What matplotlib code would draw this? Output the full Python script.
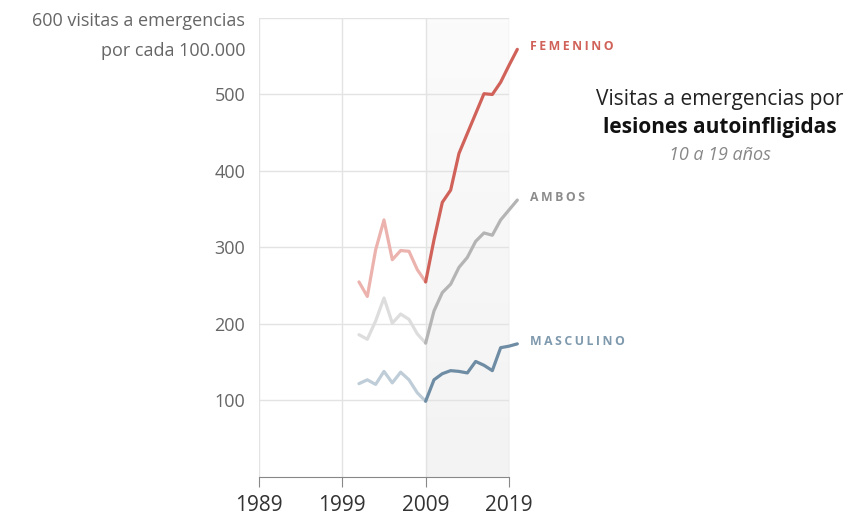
import numpy as np
import matplotlib
matplotlib.use("Agg")
import matplotlib.pyplot as plt

# --- Data ---------------------------------------------------------------------
YEARS = list(range(2001, 2021))
FEMENINO = [255, 236, 297, 336, 284, 296, 295, 271, 255, 310,
            359, 375, 423, 449, 475, 501, 500, 516, 538, 559]
AMBOS = [186, 180, 204, 234, 201, 213, 206, 187, 175, 217,
         241, 252, 274, 287, 308, 319, 316, 336, 349, 362]
MASCULINO = [122, 127, 121, 138, 123, 137, 127, 110, 99, 127,
             135, 139, 138, 136, 151, 146, 139, 169, 171, 174]
SPLIT_YEAR = 2009
X_TICKS = [1989, 1999, 2009, 2019]
Y_TICKS = [100, 200, 300, 400, 500]

SERIES = [
    ("FEMENINO", FEMENINO, "#d0625a", "#ecb2ad", "#d0625a"),
    ("AMBOS", AMBOS, "#b4b4b4", "#dddddd", "#8c8c8c"),
    ("MASCULINO", MASCULINO, "#6e8ca3", "#bfcdd8", "#7f99ad"),
]
# -----------------------------------------------------------------------------

plt.rcParams["font.family"] = ["Open Sans", "DejaVu Sans"]


def spaced(s):
    return "\u2009".join(s)


fig = plt.figure(figsize=(8.55, 5.18), dpi=100)
ax = fig.add_axes([0.3029, 0.0792, 0.2924, 0.8861])
ax.set_xlim(1989, 2019)
ax.set_ylim(0, 600)

# shaded period (light gradient)
grad = np.linspace(0, 1, 100).reshape(-1, 1)
ax.imshow(grad, extent=[SPLIT_YEAR, 2019, 0, 600], origin="upper",
          cmap=matplotlib.colors.LinearSegmentedColormap.from_list(
              "g", ["#fbfbfb", "#f3f3f3"]), aspect="auto", zorder=0)

# grid
for y in Y_TICKS + [600]:
    ax.plot([1989, 2019], [y, y], color="#e3e3e3", lw=1, zorder=1)
for x in X_TICKS:
    ax.plot([x, x], [0, 600], color="#e3e3e3", lw=1, zorder=1)

years = np.array(YEARS)
for name, vals, dark, light, lab in SERIES:
    vals = np.array(vals)
    pre = years <= SPLIT_YEAR
    post = years >= SPLIT_YEAR
    ax.plot(years[pre], vals[pre], color=light, lw=2.3, zorder=3,
            solid_capstyle="round", solid_joinstyle="round", clip_on=False)
    ax.plot(years[post], vals[post], color=dark, lw=2.3, zorder=4,
            solid_capstyle="round", solid_joinstyle="round", clip_on=False)
    ax.annotate(spaced(name), xy=(years[-1], vals[-1]), xytext=(9, 2),
                textcoords="offset points", ha="left", va="center",
                fontsize=8.8, fontweight="bold", color=lab, zorder=5,
                annotation_clip=False)

# axes styling
for s in ["left", "right", "top"]:
    ax.spines[s].set_visible(False)
ax.spines["bottom"].set_color("#888888")
ax.spines["bottom"].set_zorder(6)
ax.set_xticks(X_TICKS)
ax.set_xticklabels([str(x) for x in X_TICKS], fontsize=15, color="#333333")
ax.tick_params(axis="x", length=7, color="#888888", pad=6)
ax.set_yticks(Y_TICKS)
ax.set_yticklabels([str(y) for y in Y_TICKS], fontsize=13, color="#666666")
ax.tick_params(axis="y", length=0, pad=10)

ax.annotate("600 visitas a emergencias", xy=(0, 600),
            xycoords=("axes fraction", "data"), xytext=(-10, -2),
            textcoords="offset points", ha="right", va="center",
            fontsize=13, color="#666666", annotation_clip=False)
ax.annotate("por cada 100.000", xy=(0, 600),
            xycoords=("axes fraction", "data"), xytext=(-10, -24),
            textcoords="offset points", ha="right", va="center",
            fontsize=13, color="#666666", annotation_clip=False)

# title block
fig.text(0.842, 0.807, "Visitas a emergencias por", ha="center", va="center",
         fontsize=15, color="#222222")
fig.text(0.842, 0.753, "lesiones autoinfligidas", ha="center", va="center",
         fontsize=15, fontweight="bold", color="#111111")
fig.text(0.842, 0.700, "10 a 19 años", ha="center", va="center",
         fontsize=13, style="italic", color="#888888")

fig.savefig("out.png", dpi=100)
